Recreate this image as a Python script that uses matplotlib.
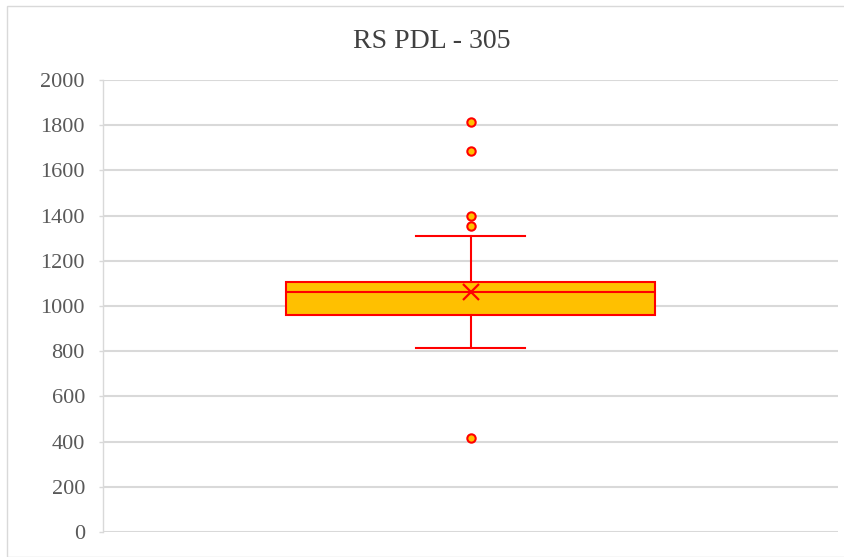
import matplotlib.pyplot as plt
from matplotlib.patches import Rectangle

# box plot summary
title = "RS PDL - 305"
q1 = 960
q3 = 1106
median = 1063
mean = 1060
whisker_low = 812
whisker_high = 1310
outliers = [1812, 1686, 1397, 1353, 415]
y_ticks = [0, 200, 400, 600, 800, 1000, 1200, 1400, 1600, 1800, 2000]

plt.rcParams['font.family'] = ['Liberation Serif', 'DejaVu Serif']

fig = plt.figure(figsize=(8.44, 5.57), dpi=100)
ax = fig.add_axes([103 / 844, 25 / 557, 735 / 844, 452 / 557])

# chart border
fig.patches.append(Rectangle((7 / 844, 0), 1.0, (557 - 6) / 557, transform=fig.transFigure,
                             fill=False, edgecolor="#D9D9D9", linewidth=1.0))

stats = [{
    "med": median, "q1": q1, "q3": q3,
    "whislo": whisker_low, "whishi": whisker_high,
    "mean": mean, "fliers": outliers,
}]

ax.bxp(stats, positions=[1], widths=0.503, showmeans=True, patch_artist=True,
       boxprops=dict(facecolor="#FFC000", edgecolor="#FF0000", linewidth=1.5),
       medianprops=dict(color="#FF0000", linewidth=1.5),
       whiskerprops=dict(color="#FF0000", linewidth=1.5),
       capprops=dict(color="#FF0000", linewidth=1.5),
       capwidths=0.148,
       meanprops=dict(marker="x", markeredgecolor="#FF0000", markersize=11, markeredgewidth=1.6),
       flierprops=dict(marker="o", markerfacecolor="#FFC000", markeredgecolor="#FF0000",
                       markersize=6, markeredgewidth=1.5))

ax.set_xlim(0.5, 1.5)
ax.set_ylim(0, 2000)
ax.set_yticks(y_ticks)
ax.set_xticks([])
ax.tick_params(axis="y", labelsize=16, labelcolor="#595959", color="#D9D9D9",
               length=3, width=1, pad=10)
ax.grid(axis="y", color="#D9D9D9", linewidth=1.5)
ax.set_axisbelow(True)
for side in ["top", "right", "bottom"]:
    ax.spines[side].set_visible(False)
ax.spines["left"].set_color("#D9D9D9")
ax.spines["left"].set_linewidth(1.0)

fig.text(432 / 844, 1 - 42 / 557, title, ha="center", va="center",
         fontsize=20, color="#404040")

fig.savefig("out.png", dpi=100)
